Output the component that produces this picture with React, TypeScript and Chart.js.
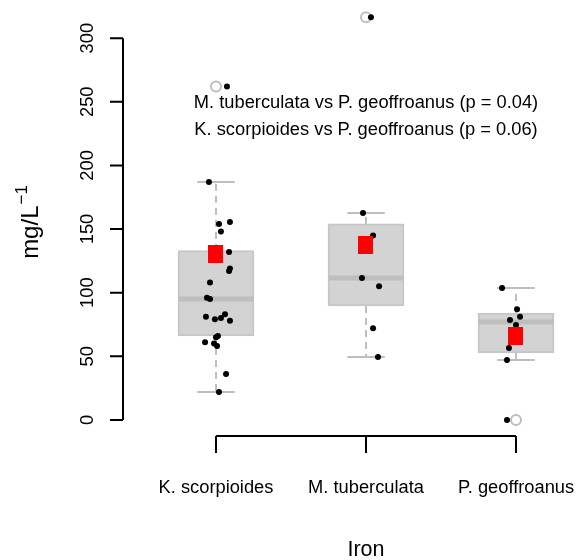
import { useEffect, useRef } from "react";
import { Chart, registerables } from "chart.js";

Chart.register(...registerables);

// ---- data ----
const categories = ["K. scorpioides", "M. tuberculata", "P. geoffroanus"];
const boxMin = [22, 49.5, 47];
const boxQ1 = [66, 89.5, 52.6];
const boxMedian = [95, 111.5, 77];
const boxQ3 = [133, 154, 84];
const boxMax = [187, 162.5, 103.7];
const groupMeans = [130, 137.5, 66];
const outlierValues = [262, 316.5, 0];

const pointsK = [187, 154, 155.5, 148, 132, 119, 117, 108, 96, 95, 81, 79, 80, 83, 78, 66, 65, 61, 60, 58, 36, 22, 262];
const jitterK = [-0.047, 0.02, 0.093, 0.033, 0.087, 0.093, 0.087, -0.04, -0.06, -0.04, -0.067, -0.007, 0.033, 0.06, 0.093, 0.013, 0, -0.073, -0.013, 0.007, 0.067, 0.02, 0.073];
const pointsM = [316.5, 162.5, 145, 111.5, 105, 72, 49.5];
const jitterM = [0.033, -0.02, 0.047, -0.027, 0.087, 0.047, 0.08];
const pointsP = [103.7, 87, 81, 78.5, 74.6, 56.5, 47, 0];
const jitterP = [-0.093, 0.007, 0.027, -0.04, 0, -0.047, -0.06, -0.06];

const yTicks = [0, 50, 100, 150, 200, 250, 300];
const xTitle = "Iron";
const yTitle = "mg/L";
const yTitleSup = "\u22121";
const annotationLines = [
  "M. tuberculata vs P. geoffroanus (p = 0.04)",
  "K. scorpioides vs P. geoffroanus (p = 0.06)",
];
const annotationX = 2;
const annotationY = [245, 224];

const FONT = "'Liberation Sans', Arial, Helvetica, sans-serif";
const GRAY = "#bebebe";

const rAxesPlugin = {
  id: "rAxes",
  afterDraw(chart: any) {
    const { ctx, chartArea } = chart;
    const xs = chart.scales.x;
    const ys = chart.scales.y;
    ctx.save();
    ctx.strokeStyle = "#000";
    ctx.fillStyle = "#000";
    ctx.lineWidth = 2;
    // y axis
    const left = chartArea.left;
    const yA = ys.getPixelForValue(yTicks[0]);
    const yB = ys.getPixelForValue(yTicks[yTicks.length - 1]);
    ctx.beginPath();
    ctx.moveTo(left, yA);
    ctx.lineTo(left, yB);
    yTicks.forEach((t) => {
      const py = ys.getPixelForValue(t);
      ctx.moveTo(left, py);
      ctx.lineTo(left - 13, py);
    });
    ctx.stroke();
    ctx.font = `18.3px ${FONT}`;
    ctx.textAlign = "center";
    ctx.textBaseline = "alphabetic";
    yTicks.forEach((t) => {
      const py = ys.getPixelForValue(t);
      ctx.save();
      ctx.translate(93, py);
      ctx.rotate(-Math.PI / 2);
      ctx.fillText(String(t), 0, 0);
      ctx.restore();
    });
    // x axis
    const bottom = chartArea.bottom;
    const xA = xs.getPixelForValue(1);
    const xB = xs.getPixelForValue(categories.length);
    ctx.beginPath();
    ctx.moveTo(xA, bottom);
    ctx.lineTo(xB, bottom);
    categories.forEach((_, i) => {
      const px = xs.getPixelForValue(i + 1);
      ctx.moveTo(px, bottom);
      ctx.lineTo(px, bottom + 17);
    });
    ctx.stroke();
    categories.forEach((c, i) => {
      const px = xs.getPixelForValue(i + 1);
      ctx.fillText(c, px, 493);
    });
    // titles
    ctx.font = `21.5px ${FONT}`;
    ctx.fillText(xTitle, xs.getPixelForValue(2), 556);
    ctx.save();
    ctx.font = `24px ${FONT}`;
    const mainW = ctx.measureText(yTitle).width;
    ctx.font = `17px ${FONT}`;
    const supW = ctx.measureText(yTitleSup).width;
    const total = mainW + supW + 1;
    ctx.translate(38, 222 + total / 2);
    ctx.rotate(-Math.PI / 2);
    ctx.textAlign = "left";
    ctx.font = `24px ${FONT}`;
    ctx.fillText(yTitle, 0, 0);
    ctx.font = `17px ${FONT}`;
    ctx.fillText(yTitleSup, mainW + 1, -11);
    ctx.restore();
    // annotations
    ctx.font = `18.3px ${FONT}`;
    ctx.textAlign = "center";
    annotationLines.forEach((line, i) => {
      ctx.fillText(line, xs.getPixelForValue(annotationX), ys.getPixelForValue(annotationY[i]));
    });
    ctx.restore();
  },
};

function seg(x1: number, y1: number, x2: number, y2: number, color: string, width: number, dash: number[] = []) {
  return {
    type: "line" as const,
    data: [
      { x: x1, y: y1 },
      { x: x2, y: y2 },
    ],
    borderColor: color,
    borderWidth: width,
    borderDash: dash,
    pointRadius: 0,
    fill: false,
    tension: 0,
  };
}

export default function App() {
  const ref = useRef<HTMLCanvasElement>(null);
  useEffect(() => {
    if (!ref.current) return;
    const sq = document.createElement("canvas");
    sq.width = 15;
    sq.height = 18;
    const sctx = sq.getContext("2d")!;
    sctx.fillStyle = "#ff0000";
    sctx.fillRect(0, 0, 15, 18);

    const centers = categories.map((_, i) => i + 1);
    const means = {
      type: "scatter" as const,
      data: centers.map((c, i) => ({ x: c, y: groupMeans[i] })),
      pointStyle: sq,
      pointRadius: 9,
    };
    const groups = [
      [pointsK, jitterK],
      [pointsM, jitterM],
      [pointsP, jitterP],
    ];
    const pts = {
      type: "scatter" as const,
      data: groups.flatMap(([vals, jit], gi) => vals.map((v, k) => ({ x: gi + 1 + jit[k], y: v }))),
      pointStyle: "circle",
      pointRadius: 3,
      backgroundColor: "#000",
      borderColor: "#000",
      borderWidth: 0,
    };
    const outs = {
      type: "scatter" as const,
      data: centers.map((c, i) => ({ x: c, y: outlierValues[i] })),
      pointStyle: "circle",
      pointRadius: 5,
      backgroundColor: "rgba(0,0,0,0)",
      borderColor: GRAY,
      borderWidth: 2,
    };
    const medians = centers.map((c, i) => seg(c - 0.25, boxMedian[i], c + 0.25, boxMedian[i], GRAY, 5));
    const caps = centers.flatMap((c, i) => [
      seg(c - 0.125, boxMax[i], c + 0.125, boxMax[i], GRAY, 2),
      seg(c - 0.125, boxMin[i], c + 0.125, boxMin[i], GRAY, 2),
    ]);
    const whiskers = centers.flatMap((c, i) => [
      seg(c, boxQ3[i], c, boxMax[i], GRAY, 2, [7, 5]),
      seg(c, boxQ1[i], c, boxMin[i], GRAY, 2, [7, 5]),
    ]);
    const boxes = {
      type: "bar" as const,
      data: centers.map((c, i) => ({ x: c, y: [boxQ1[i], boxQ3[i]] })),
      backgroundColor: "#d3d3d3",
      borderColor: "#c6c6c6",
      borderWidth: 2,
      borderSkipped: false,
      barThickness: 76,
    };

    const chart = new Chart(ref.current, {
      type: "scatter",
      data: {
        datasets: [means, pts, outs, ...medians, ...caps, ...whiskers, boxes] as any,
      },
      options: {
        responsive: false,
        animation: false,
        events: [],
        layout: { autoPadding: false, padding: { left: 123, right: 0, top: 1, bottom: 124 } },
        plugins: { legend: { display: false }, tooltip: { enabled: false } },
        scales: {
          x: { type: "linear", display: false, min: 0.38, max: 3.4667, offset: false },
          y: { type: "linear", display: false, min: -12.66, max: 329.2, beginAtZero: false },
        },
      } as any,
      plugins: [rAxesPlugin],
    });
    return () => chart.destroy();
  }, []);
  return (
    <div style={{ position: "absolute", left: 0, top: 0, width: 586, height: 560, background: "#fff" }}>
      <canvas ref={ref} width={586} height={560} style={{ width: 586, height: 560 }} />
    </div>
  );
}
